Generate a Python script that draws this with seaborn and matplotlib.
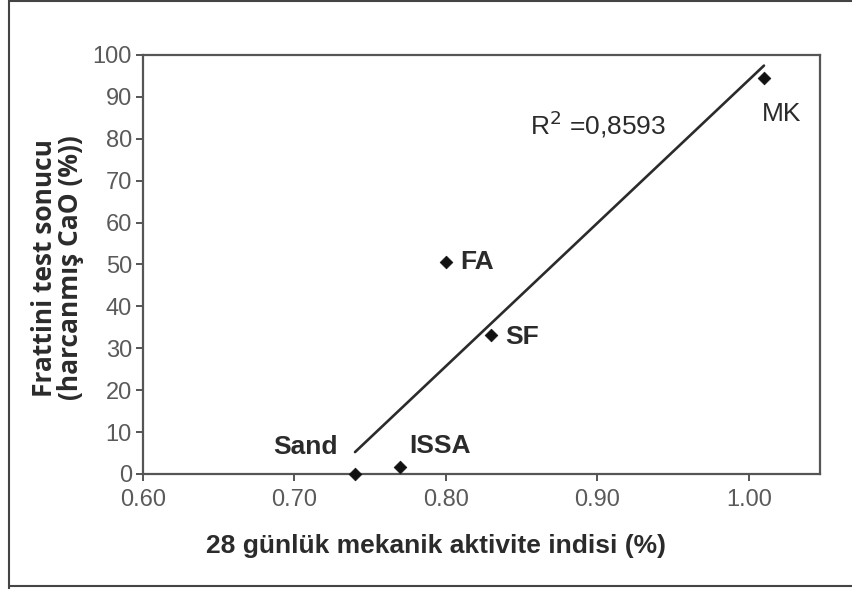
import matplotlib
matplotlib.use("Agg")
import matplotlib.pyplot as plt
from matplotlib.lines import Line2D
import pandas as pd
import seaborn as sns

# Data
materials = ["Sand", "ISSA", "FA", "SF", "MK"]
activity_index = [0.74, 0.77, 0.80, 0.83, 1.01]
cao_consumed = [0.0, 1.7, 50.6, 33.2, 94.4]
x_ticks = [0.60, 0.70, 0.80, 0.90, 1.00]
y_ticks = [0, 10, 20, 30, 40, 50, 60, 70, 80, 90, 100]
r2_text = "R$^2$ =0,8593"

df = pd.DataFrame({"material": materials, "x": activity_index, "y": cao_consumed})

sns.set_theme(style="white")
plt.rcParams["font.family"] = ["Liberation Sans", "DejaVu Sans"]

grey = "#555555"
dark = "#2b2b2b"

fig = plt.figure(figsize=(8.53, 5.89), dpi=100)
ax = fig.add_axes([143 / 853, (589 - 474) / 589, (820 - 143) / 853, (474 - 55) / 589])

# fitted trend line (least squares) over the data range
sns.regplot(data=df, x="x", y="y", ax=ax, ci=None, truncate=True, scatter=False,
            line_kws=dict(color=dark, lw=1.9))
sns.scatterplot(data=df, x="x", y="y", ax=ax, marker="D", s=42, color="#111111",
                edgecolor="#111111", linewidth=0.5, clip_on=False, zorder=5, legend=False)

ax.set_xlim(0.60, 1.047)
ax.set_ylim(0, 100)
ax.set_xticks(x_ticks)
ax.set_xticklabels([f"{v:.2f}" for v in x_ticks])
ax.set_yticks(y_ticks)
ax.set_yticklabels([str(v) for v in y_ticks])
ax.tick_params(axis="both", which="both", direction="out", length=5, width=1.4,
               color=grey, labelcolor="#5a5a5a", labelsize=17, bottom=True, left=True)
ax.tick_params(axis="x", pad=6)
ax.tick_params(axis="y", pad=3)
for s in ax.spines.values():
    s.set_color(grey)
    s.set_linewidth(1.6)

ax.set_xlabel("")
ax.set_ylabel("")

# point labels
lab_kw = dict(fontsize=19, fontweight="bold", color=dark)
ax.text(1.0086, 85.9, "MK", ha="left", va="center", fontsize=19, color=dark)
ax.text(0.8092, 50.6, "FA", ha="left", va="center", **lab_kw)
ax.text(0.8390, 32.7, "SF", ha="left", va="center", **lab_kw)
ax.text(0.7287, 6.5, "Sand", ha="right", va="center", **lab_kw)
ax.text(0.7756, 6.8, "ISSA", ha="left", va="center", **lab_kw)
ax.text(0.8555, 83.5, r2_text, ha="left", va="center", fontsize=19, color=dark)

# axis titles
fig.text(436 / 853, 1 - 546 / 589, "28 günlük mekanik aktivite indisi (%)",
         ha="center", va="center", fontsize=19, fontweight="bold", color=dark)
fig.text(45 / 853, 1 - 268 / 589, "Frattini test sonucu", rotation=90,
         ha="center", va="center", fontsize=19, fontweight="bold", color=dark,
         family=["Open Sans", "DejaVu Sans"])
fig.text(71 / 853, 1 - 268 / 589, "(harcanmış CaO (%))", rotation=90,
         ha="center", va="center", fontsize=19, fontweight="bold", color=dark,
         family=["Open Sans", "DejaVu Sans"])

# outer frame of the figure
for xs, ys in [((9 / 853, 9 / 853), (0, 1)), ((9 / 853, 1), (1 - 586 / 589, 1 - 586 / 589)),
               ((9 / 853, 1), (1 - 1 / 589, 1 - 1 / 589))]:
    fig.add_artist(Line2D(xs, ys, transform=fig.transFigure, color="#444444", lw=1.5))

fig.savefig("out.png", dpi=100)
